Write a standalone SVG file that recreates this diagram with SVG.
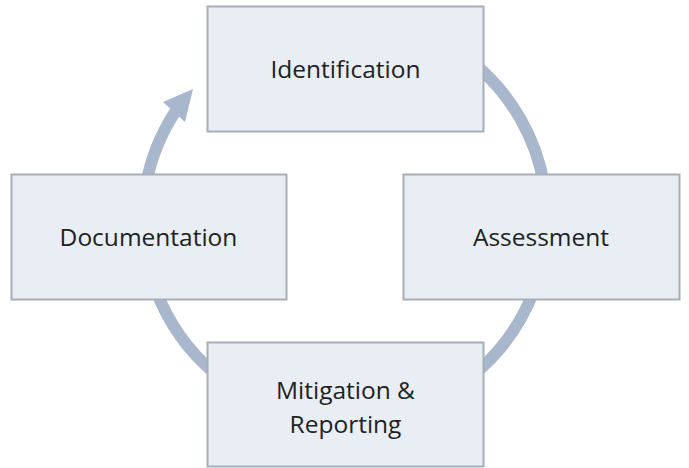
<svg xmlns="http://www.w3.org/2000/svg" width="689" height="468" viewBox="0 0 689 468">
  <style>
    .box { fill: #e8eef4; stroke: #a7aeb6; stroke-width: 2; }
    .lbl { font-family: "Open Sans", "Liberation Sans", sans-serif; font-size: 24.5px; fill: #222222; text-anchor: middle; }
    .arc { fill: none; stroke: #a9b7cd; stroke-width: 12; }
    .head { fill: #a9b7cd; }
  </style>
  <rect width="689" height="468" fill="#ffffff"/>
  <g id="connectors">
    <path class="arc" d="M 475 64.4 A 202 202 0 0 1 544.1 185"/>
    <path class="arc" d="M 534.1 290 A 202 202 0 0 1 475 373.6"/>
    <path class="arc" d="M 215 373.6 A 202 202 0 0 1 155.9 290"/>
    <path class="arc" d="M 145.9 185 A 202 202 0 0 1 176 110.5"/>
    <polygon class="head" points="193,89 163,102 185,122"/>
  </g>
  <g id="identification">
    <rect class="box" x="207.5" y="6.5" width="276" height="125"/>
    <text class="lbl" x="345.5" y="78">Identification</text>
  </g>
  <g id="assessment">
    <rect class="box" x="403.5" y="174.5" width="276" height="125"/>
    <text class="lbl" x="541" y="245.5">Assessment</text>
  </g>
  <g id="documentation">
    <rect class="box" x="11.5" y="174.5" width="275" height="125"/>
    <text class="lbl" x="148.5" y="245.5">Documentation</text>
  </g>
  <g id="mitigation">
    <rect class="box" x="207.5" y="342.5" width="276" height="124"/>
    <text class="lbl" x="345.5" y="399">Mitigation &amp;</text>
    <text class="lbl" x="345.5" y="433">Reporting</text>
  </g>
</svg>
